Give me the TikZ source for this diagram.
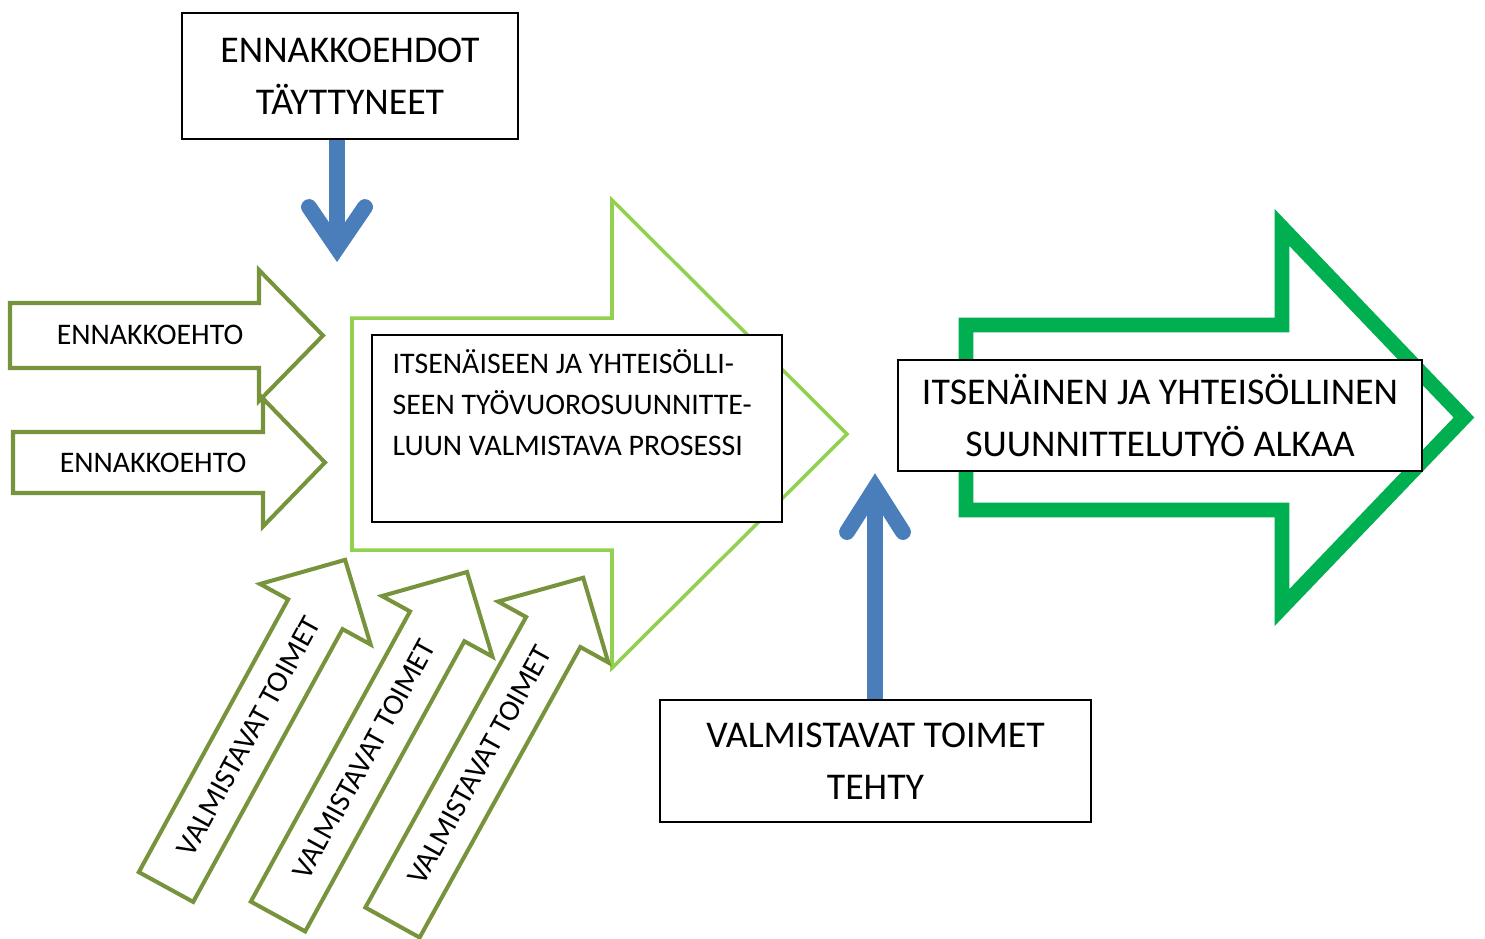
\documentclass[tikz,border=0pt]{standalone}
\usepackage{fontspec}
\setmainfont{Carlito}

\definecolor{OliveColor}{RGB}{119,147,60}
\definecolor{ProcessColor}{RGB}{146,208,80}
\definecolor{StartColor}{RGB}{0,176,80}
\definecolor{FlowColor}{RGB}{74,126,187}

% block arrow along x: length, shaft half width, head half width, head length
\newcommand{\blockarrow}[4]{(0,-#2) -- ({#1-#4},-#2) -- ({#1-#4},-#3) -- (#1,0) -- ({#1-#4},#3) -- ({#1-#4},#2) -- (0,#2) -- cycle}

\begin{document}
\begin{tikzpicture}[
		x=0.02cm, y=-0.02cm,
		box/.style={draw=black, fill=white, line width=0.8pt, inner sep=0pt},
		bigtext/.style={font=\fontsize{21.5}{29.5}\selectfont, align=center},
		smalltext/.style={font=\fontsize{17}{23.2}\selectfont},
		condition/.style={draw=OliveColor, fill=white, line width=2.3pt},
		process/.style={draw=ProcessColor, fill=white, line width=2pt},
		start/.style={draw=StartColor, fill=white, line width=8.5pt},
		flow/.style={draw=FlowColor, line width=9pt},
		flowhead/.style={flow, line cap=round, line join=miter}
	]
	\useasboundingbox (0,0) rectangle (1485,938);

	% Process arrow
	\draw[process, shift={(352,434)}] \blockarrow{495}{116}{234}{235};
	\node[box, minimum width=8.2cm, minimum height=3.74cm] (procbox) at (577,428.5) {};
	\node[smalltext, anchor=north west, align=left, inner sep=0pt] (proctext) at ([shift={(21,15)}]procbox.north west)
		{ITSENÄISEEN JA YHTEISÖLLI-\\SEEN TYÖVUOROSUUNNITTE-\\LUUN VALMISTAVA PROSESSI};

	% Start arrow
	\draw[start, shift={(966,417.5)}] \blockarrow{498}{92.5}{190}{182};
	\node[box, bigtext, minimum width=10.48cm, minimum height=2.22cm] (startbox) at (1160,415.5)
		{ITSENÄINEN JA YHTEISÖLLINEN\\SUUNNITTELUTYÖ ALKAA};

	% Conditions
	\draw[condition, shift={(10,335.5)}] \blockarrow{313}{32.5}{65.5}{64};
	\node[smalltext] (condA) at (150,335) {ENNAKKOEHTO};
	\draw[condition, shift={(13,462.5)}] \blockarrow{312}{30.5}{64}{62};
	\node[smalltext] (condB) at (153,463) {ENNAKKOEHTO};

	% Preparations
	\begin{scope}[shift={(166,887)}, rotate=61.3]
		\draw[condition] \blockarrow{373}{31}{63}{62};
		\node[smalltext, rotate=61.3] (prepA) at (172,0) {VALMISTAVAT TOIMET};
	\end{scope}
	\begin{scope}[shift={(278,916.5)}, rotate=61.25]
		\draw[condition] \blockarrow{393}{31}{63}{62};
		\node[smalltext, rotate=61.25] (prepB) at (179,0) {VALMISTAVAT TOIMET};
	\end{scope}
	\begin{scope}[shift={(392.5,922.5)}, rotate=61.05]
		\draw[condition] \blockarrow{394}{31}{63}{62};
		\node[smalltext, rotate=61.05] (prepC) at (180,0) {VALMISTAVAT TOIMET};
	\end{scope}

	% Boxes
	\node[box, bigtext, minimum width=6.72cm, minimum height=2.52cm] (topbox) at (350,76)
		{ENNAKKOEHDOT\\TÄYTTYNEET};
	\node[box, bigtext, minimum width=8.62cm, minimum height=2.44cm] (donebox) at (875.5,761)
		{VALMISTAVAT TOIMET\\TEHTY};

	% Blue arrows
	\coordinate (downtip) at (337,248);
	\draw[flow] (downtip |- topbox.south) -- (downtip);
	\draw[flowhead] ([shift={(-28,-41)}]downtip) -- (downtip) -- ([shift={(28,-41)}]downtip);
	\coordinate (uptip) at (875,488);
	\draw[flow] (uptip |- donebox.north) -- (uptip);
	\draw[flowhead] ([shift={(-28,44)}]uptip) -- (uptip) -- ([shift={(28,44)}]uptip);

\end{tikzpicture}
\end{document}
